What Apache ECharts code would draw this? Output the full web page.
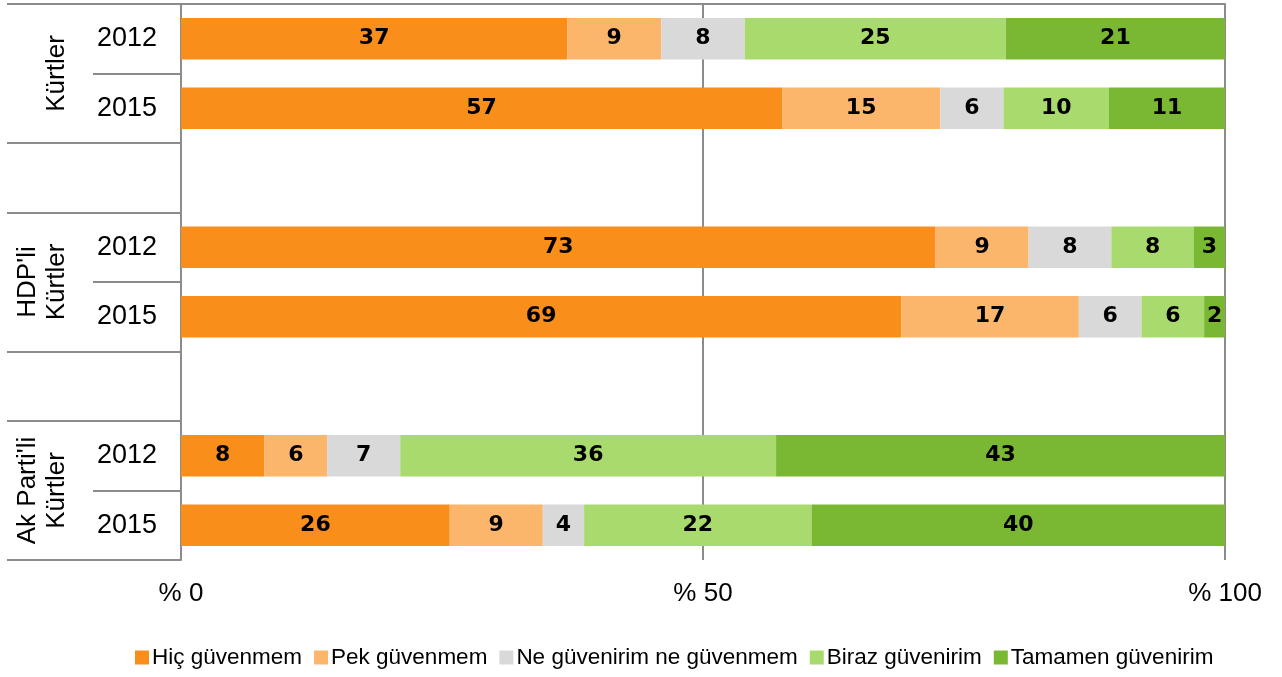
<!DOCTYPE html>
<html>
<head>
<meta charset="utf-8">
<script src="https://cdn.jsdelivr.net/npm/echarts@6/dist/echarts.min.js"></script>
<style>
  html, body { margin: 0; padding: 0; background: #fff; }
  #chart { width: 1282px; height: 677px; }
</style>
</head>
<body>
<div id="chart"></div>
<script>
// rows top to bottom, empty slots between groups
var years = ['2012', '2015', '', '2012', '2015', '', '2012', '2015'];
var groups = ["Kürtler", "HDP'li\nKürtler", "Ak Parti'li\nKürtler"];
var groupCenters = [1, 4, 7];
var groupBounds = [0, 2, 3, 5, 6, 8];

var seriesNames = ['Hiç güvenmem', 'Pek güvenmem', 'Ne güvenirim ne güvenmem', 'Biraz güvenirim', 'Tamamen güvenirim'];
var hic     = [37, 57, null, 73, 69, null, 8, 26];
var pek     = [9, 15, null, 9, 17, null, 6, 9];
var ne      = [8, 6, null, 8, 6, null, 7, 4];
var biraz   = [25, 10, null, 8, 6, null, 36, 22];
var tamamen = [21, 11, null, 3, 2, null, 43, 40];
var colors = ['#F98E1A', '#FBB66B', '#D9D9D9', '#A9DA6E', '#7AB733'];

var raw = [hic, pek, ne, biraz, tamamen];
var lineColor = '#8C8C8C';
var font = 'Liberation Sans';

// bars are drawn as share of the row total (100% stacked)
function rowTotal(i) {
    var s = 0;
    raw.forEach(function (arr) { s += arr[i] || 0; });
    return s;
}

var series = raw.map(function (arr, k) {
    return {
        name: seriesNames[k],
        type: 'bar',
        stack: 'all',
        barCategoryGap: '40%',
        itemStyle: { color: colors[k] },
        label: {
            show: true,
            color: '#000',
            fontFamily: 'DejaVu Sans',
            fontWeight: 'bold',
            fontSize: 22,
            formatter: function (p) { return arr[p.dataIndex]; }
        },
        data: arr.map(function (v, i) {
            return v == null ? null : v / rowTotal(i) * 100;
        })
    };
});

var chart = echarts.init(document.getElementById('chart'));
chart.setOption({
    animation: false,
    grid: { left: 181, right: 57, top: 4, bottom: 117, containLabel: false },
    legend: {
        bottom: 3,
        left: 130,
        itemWidth: 14,
        itemHeight: 14,
        itemGap: 12,
        icon: 'rect',
        textStyle: { fontFamily: font, fontSize: 22.5, color: '#000', padding: [0, 0, 0, -2] },
        data: seriesNames
    },
    xAxis: {
        type: 'value',
        min: 0,
        max: 100,
        interval: 50,
        axisLine: { show: true, lineStyle: { color: lineColor, width: 2 } },
        axisTick: { show: true, length: 8, lineStyle: { color: lineColor, width: 2 } },
        splitLine: { show: true, lineStyle: { color: lineColor, width: 2 } },
        axisLabel: {
            margin: 21,
            fontFamily: font,
            fontSize: 26,
            color: '#000',
            formatter: function (v) { return '% ' + v; }
        }
    },
    yAxis: [{
        type: 'category',
        inverse: true,
        data: years,
        axisLine: { show: true, lineStyle: { color: lineColor, width: 2 } },
        axisTick: { show: true, interval: 0, alignWithLabel: false, length: 88, lineStyle: { color: lineColor, width: 2 } },
        axisLabel: { margin: 24, fontFamily: font, fontSize: 27, color: '#000' }
    }, {
        type: 'value',
        position: 'left',
        offset: 88,
        inverse: true,
        min: 0,
        max: 8,
        axisLine: { show: false },
        splitLine: { show: false },
        axisTick: { show: true, customValues: groupBounds, length: 86, lineStyle: { color: lineColor, width: 2 } },
        axisLabel: {
            customValues: groupCenters,
            rotate: 90,
            margin: 22,
            fontFamily: font,
            fontSize: 26,
            lineHeight: 29,
            color: '#000',
            formatter: function (v) { return groups[groupCenters.indexOf(v)]; }
        }
    }],
    series: series
});
</script>
</body>
</html>
